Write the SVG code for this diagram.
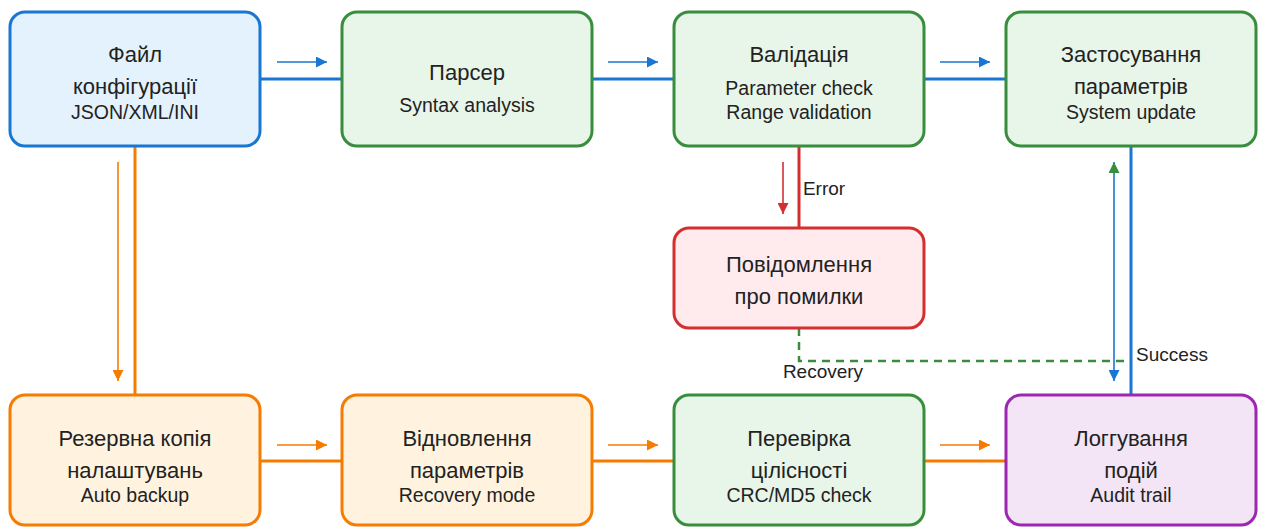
<svg xmlns="http://www.w3.org/2000/svg" width="1262" height="527" viewBox="0 0 1262 527">
  <defs>
    <style>
      .box { stroke-width: 3; }
      .blue { fill: #e3f2fd; stroke: #1976d2; }
      .green { fill: #e8f5e9; stroke: #388e3c; }
      .red { fill: #ffebee; stroke: #d32f2f; }
      .orange { fill: #fff3e0; stroke: #f57c00; }
      .purple { fill: #f3e5f5; stroke: #9c27b0; }
      text { font-family: "Liberation Sans", Arial, sans-serif; fill: #222; text-anchor: middle; }
      .t { font-size: 22px; }
      .s { font-size: 19.5px; }
      .lbl { font-size: 19px; }
      .main { fill: none; stroke-width: 3; }
      .hint { fill: none; stroke-width: 1.6; }
      .cb { stroke: #1976d2; }
      .co { stroke: #f57c00; }
      .cr { stroke: #d32f2f; }
      .cg { stroke: #388e3c; }
    </style>
    <marker id="ah-blue" viewBox="0 0 10 10" refX="10" refY="5" markerWidth="11" markerHeight="11" markerUnits="userSpaceOnUse" orient="auto">
      <path d="M0,0 L10,5 L0,10 z" fill="#1976d2"/>
    </marker>
    <marker id="ah-orange" viewBox="0 0 10 10" refX="10" refY="5" markerWidth="11" markerHeight="11" markerUnits="userSpaceOnUse" orient="auto">
      <path d="M0,0 L10,5 L0,10 z" fill="#f57c00"/>
    </marker>
    <marker id="ah-red" viewBox="0 0 10 10" refX="10" refY="5" markerWidth="11" markerHeight="11" markerUnits="userSpaceOnUse" orient="auto">
      <path d="M0,0 L10,5 L0,10 z" fill="#d32f2f"/>
    </marker>
    <marker id="ah-green-start" viewBox="0 0 10 10" refX="0" refY="5" markerWidth="11" markerHeight="11" markerUnits="userSpaceOnUse" orient="auto">
      <path d="M10,0 L0,5 L10,10 z" fill="#388e3c"/>
    </marker>
  </defs>

  <!-- connectors -->
  <g id="connectors">
    <!-- top row: Файл → Парсер → Валідація → Застосування -->
    <line class="main cb" x1="260" y1="79" x2="342" y2="79"/>
    <line class="hint cb" x1="277" y1="62" x2="327" y2="62" marker-end="url(#ah-blue)"/>
    <line class="main cb" x1="592" y1="79" x2="674" y2="79"/>
    <line class="hint cb" x1="608" y1="62" x2="658" y2="62" marker-end="url(#ah-blue)"/>
    <line class="main cb" x1="924" y1="79" x2="1006" y2="79"/>
    <line class="hint cb" x1="940" y1="62" x2="990" y2="62" marker-end="url(#ah-blue)"/>

    <!-- Файл → Резервна копія -->
    <line class="main co" x1="135" y1="146" x2="135" y2="395"/>
    <line class="hint co" x1="118" y1="162" x2="118" y2="381" marker-end="url(#ah-orange)"/>

    <!-- Валідація → Повідомлення (Error) -->
    <line class="main cr" x1="799" y1="146" x2="799" y2="228"/>
    <line class="hint cr" x1="783" y1="162" x2="783" y2="214" marker-end="url(#ah-red)"/>

    <!-- Повідомлення → recovery path (dashed) -->
    <path class="cg" d="M799,328 V361 H1124" fill="none" stroke-width="2.5" stroke-dasharray="8 6"/>

    <!-- Застосування ↔ Логгування (Success) -->
    <line class="main cb" x1="1131" y1="146" x2="1131" y2="395"/>
    <line class="hint cb" x1="1114" y1="162" x2="1114" y2="381" marker-start="url(#ah-green-start)" marker-end="url(#ah-blue)"/>

    <!-- bottom row: Резервна → Відновлення → Перевірка → Логгування -->
    <line class="main co" x1="260" y1="461" x2="342" y2="461"/>
    <line class="hint co" x1="277" y1="445" x2="327" y2="445" marker-end="url(#ah-orange)"/>
    <line class="main co" x1="592" y1="461" x2="674" y2="461"/>
    <line class="hint co" x1="608" y1="445" x2="658" y2="445" marker-end="url(#ah-orange)"/>
    <line class="main co" x1="924" y1="461" x2="1006" y2="461"/>
    <line class="hint co" x1="940" y1="445" x2="990" y2="445" marker-end="url(#ah-orange)"/>

    <!-- edge labels -->
    <text class="lbl" x="218" y="45">Parse</text>
    <text class="lbl" x="550" y="45">Validate</text>
    <text class="lbl" x="882" y="46">Apply</text>
    <text class="lbl" x="824" y="195">Error</text>
    <text class="lbl" x="823" y="378">Recovery</text>
    <text class="lbl" x="1172" y="361">Success</text>
  </g>

  <!-- nodes -->
  <g id="config-file">
    <rect class="box blue" x="10" y="12" width="250" height="134" rx="15"/>
    <text class="t" x="135" y="62">Файл</text>
    <text class="t" x="135" y="94">конфігурації</text>
    <text class="s" x="135" y="119">JSON/XML/INI</text>
  </g>
  <g id="parser">
    <rect class="box green" x="342" y="12" width="250" height="134" rx="15"/>
    <text class="t" x="467" y="80">Парсер</text>
    <text class="s" x="467" y="112">Syntax analysis</text>
  </g>
  <g id="validation">
    <rect class="box green" x="674" y="12" width="250" height="134" rx="15"/>
    <text class="t" x="799" y="62">Валідація</text>
    <text class="s" x="799" y="95">Parameter check</text>
    <text class="s" x="799" y="119">Range validation</text>
  </g>
  <g id="apply">
    <rect class="box green" x="1006" y="12" width="250" height="134" rx="15"/>
    <text class="t" x="1131" y="62">Застосування</text>
    <text class="t" x="1131" y="94">параметрів</text>
    <text class="s" x="1131" y="119">System update</text>
  </g>
  <g id="error-message">
    <rect class="box red" x="674" y="228" width="250" height="100" rx="15"/>
    <text class="t" x="799" y="272">Повідомлення</text>
    <text class="t" x="799" y="304">про помилки</text>
  </g>
  <g id="backup">
    <rect class="box orange" x="10" y="395" width="250" height="130" rx="15"/>
    <text class="t" x="135" y="446">Резервна копія</text>
    <text class="t" x="135" y="478">налаштувань</text>
    <text class="s" x="135" y="502">Auto backup</text>
  </g>
  <g id="restore">
    <rect class="box orange" x="342" y="395" width="250" height="130" rx="15"/>
    <text class="t" x="467" y="446">Відновлення</text>
    <text class="t" x="467" y="478">параметрів</text>
    <text class="s" x="467" y="502">Recovery mode</text>
  </g>
  <g id="integrity">
    <rect class="box green" x="674" y="395" width="250" height="130" rx="15"/>
    <text class="t" x="799" y="446">Перевірка</text>
    <text class="t" x="799" y="478">цілісності</text>
    <text class="s" x="799" y="502">CRC/MD5 check</text>
  </g>
  <g id="logging">
    <rect class="box purple" x="1006" y="395" width="250" height="130" rx="15"/>
    <text class="t" x="1131" y="446">Логгування</text>
    <text class="t" x="1131" y="478">подій</text>
    <text class="s" x="1131" y="502">Audit trail</text>
  </g>
</svg>
